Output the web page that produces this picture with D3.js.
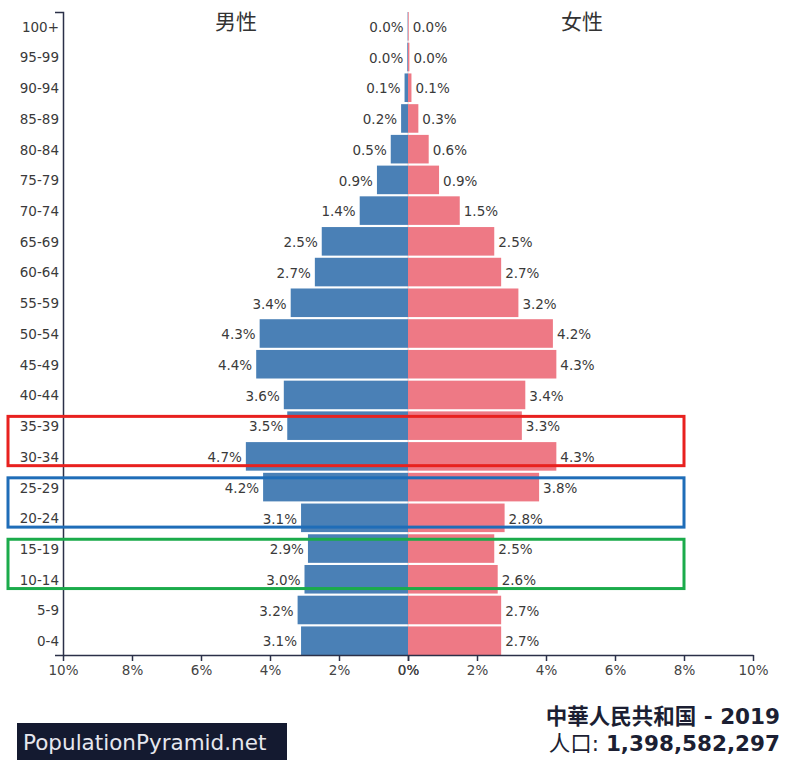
<!DOCTYPE html>
<html>
<head>
<meta charset="utf-8">
<script src="https://cdn.jsdelivr.net/npm/d3@7"></script>
<style>
  html, body { margin: 0; padding: 0; background: #fff; }
  svg { display: block; }
  text { font-family: "DejaVu Sans", "Noto Sans CJK SC", sans-serif; }
</style>
</head>
<body>
<script>
const ageGroups = ["100+","95-99","90-94","85-89","80-84","75-79","70-74","65-69","60-64","55-59","50-54","45-49","40-44","35-39","30-34","25-29","20-24","15-19","10-14","5-9","0-4"];
const maleValues   = [0.01,0.02,0.1,0.2,0.5,0.9,1.4,2.5,2.7,3.4,4.3,4.4,3.6,3.5,4.7,4.2,3.1,2.9,3.0,3.2,3.1];
const femaleValues = [0.02,0.04,0.1,0.3,0.6,0.9,1.5,2.5,2.7,3.2,4.2,4.3,3.4,3.3,4.3,3.8,2.8,2.5,2.6,2.7,2.7];
const maleTicks = [10,8,6,4,2,0];
const femaleTicks = [0,2,4,6,8,10];
const highlightGroups = [
  {from: "35-39", to: "30-34", color: "#e8211f"},
  {from: "25-29", to: "20-24", color: "#1f6db8"},
  {from: "15-19", to: "10-14", color: "#1bab4b"}
];
const titleLeft = "男性", titleRight = "女性";
const countryLine = "中華人民共和国 - 2019";
const popLabel = "人口: ", popValue = "1,398,582,297";
const brand = "PopulationPyramid.net";

const W = 800, H = 773;
const svg = d3.select("body").append("svg").attr("width", W).attr("height", H);

const yTop = 12, yBottom = 655, xCenter = 408, xLeftEnd = 63, xRightEnd = 753;
const y = d3.scaleBand().domain(ageGroups).range([yTop, yBottom]).paddingInner(0.07).paddingOuter(0);
const xL = d3.scaleLinear().domain([0, 10]).range([xCenter, xLeftEnd]);
const xR = d3.scaleLinear().domain([0, 10]).range([xCenter, xRightEnd]);

const maleColor = "#4a80b6", femaleColor = "#ee7985";
const axisColor = "#2b3048", textColor = "#3a3a3a";

// faint center line
svg.append("line").attr("x1", xCenter).attr("x2", xCenter).attr("y1", yTop).attr("y2", yBottom)
  .attr("stroke", "#e6d6dc").attr("stroke-width", 1);

// bars
svg.append("g").selectAll("rect").data(ageGroups).join("rect")
  .attr("x", (d, i) => xL(maleValues[i]))
  .attr("width", (d, i) => xCenter - xL(maleValues[i]))
  .attr("y", d => y(d)).attr("height", y.bandwidth())
  .attr("fill", maleColor);
svg.append("g").selectAll("rect").data(ageGroups).join("rect")
  .attr("x", xCenter)
  .attr("width", (d, i) => xR(femaleValues[i]) - xCenter)
  .attr("y", d => y(d)).attr("height", y.bandwidth())
  .attr("fill", femaleColor);

// value labels
svg.append("g").selectAll("text").data(ageGroups).join("text")
  .attr("x", (d, i) => xL(maleValues[i]) - 4)
  .attr("y", d => y(d) + y.bandwidth() / 2 + 1)
  .attr("dy", "0.35em").attr("text-anchor", "end")
  .attr("font-size", 13.5).attr("fill", textColor)
  .text((d, i) => maleValues[i].toFixed(1) + "%");
svg.append("g").selectAll("text").data(ageGroups).join("text")
  .attr("x", (d, i) => xR(femaleValues[i]) + 4)
  .attr("y", d => y(d) + y.bandwidth() / 2 + 1)
  .attr("dy", "0.35em").attr("text-anchor", "start")
  .attr("font-size", 13.5).attr("fill", textColor)
  .text((d, i) => femaleValues[i].toFixed(1) + "%");

// y axis
const yAxis = svg.append("g").attr("transform", `translate(${xLeftEnd},0)`)
  .call(d3.axisLeft(y).tickSize(0).tickSizeOuter(8).tickPadding(4));
yAxis.select(".domain").attr("stroke", axisColor).attr("stroke-width", 1.5);
yAxis.selectAll("text").attr("font-size", 13.5).attr("fill", textColor)
  .attr("font-family", "DejaVu Sans").attr("dy", "0.4em");

// x axes
const fmt = d => d + "%";
const gxL = svg.append("g").attr("transform", `translate(0,${yBottom})`)
  .call(d3.axisBottom(xL).tickValues(maleTicks).tickFormat(fmt).tickSize(6).tickSizeOuter(0).tickPadding(4));
const gxR = svg.append("g").attr("transform", `translate(0,${yBottom})`)
  .call(d3.axisBottom(xR).tickValues(femaleTicks).tickFormat(fmt).tickSize(6).tickSizeOuter(0).tickPadding(4));
[gxL, gxR].forEach(g => {
  g.select(".domain").attr("stroke", axisColor).attr("stroke-width", 1.5);
  g.selectAll(".tick line").attr("stroke", axisColor).attr("stroke-width", 1.5);
  g.selectAll("text").attr("font-size", 13.5).attr("fill", "#444").attr("font-family", "DejaVu Sans");
});

// titles
svg.append("text").attr("x", 236).attr("y", 29).attr("text-anchor", "middle")
  .attr("font-size", 21).attr("fill", "#333").attr("font-family", "Noto Sans CJK SC").text(titleLeft);
svg.append("text").attr("x", 582).attr("y", 29).attr("text-anchor", "middle")
  .attr("font-size", 21).attr("fill", "#333").attr("font-family", "Noto Sans CJK SC").text(titleRight);

// highlight boxes
svg.append("g").selectAll("rect").data(highlightGroups).join("rect")
  .attr("x", 8)
  .attr("y", d => y(d.from) + 5)
  .attr("width", xR(8) - 8)
  .attr("height", d => (y(d.to) + y.bandwidth() - 5) - (y(d.from) + 5))
  .attr("fill", "none").attr("stroke", d => d.color).attr("stroke-width", 3);

// brand box
svg.append("rect").attr("x", 17).attr("y", 723).attr("width", 270).attr("height", 37).attr("fill", "#141a30");
svg.append("text").attr("x", 23).attr("y", 750).attr("font-size", 21.5).attr("fill", "#e6e7ee")
  .attr("font-family", "DejaVu Sans").text(brand);

// country info
svg.append("text").attr("x", 780).attr("y", 724).attr("text-anchor", "end")
  .attr("font-size", 21.5).attr("font-weight", "bold").attr("fill", "#1c1f33")
  .attr("font-family", "DejaVu Sans, Noto Sans CJK SC").text(countryLine);
const t2 = svg.append("text").attr("x", 780).attr("y", 751).attr("text-anchor", "end")
  .attr("font-size", 21.5).attr("fill", "#1c1f33").attr("font-family", "DejaVu Sans, Noto Sans CJK SC");
t2.append("tspan").text(popLabel);
t2.append("tspan").attr("font-weight", "bold").text(popValue);
</script>
</body>
</html>
